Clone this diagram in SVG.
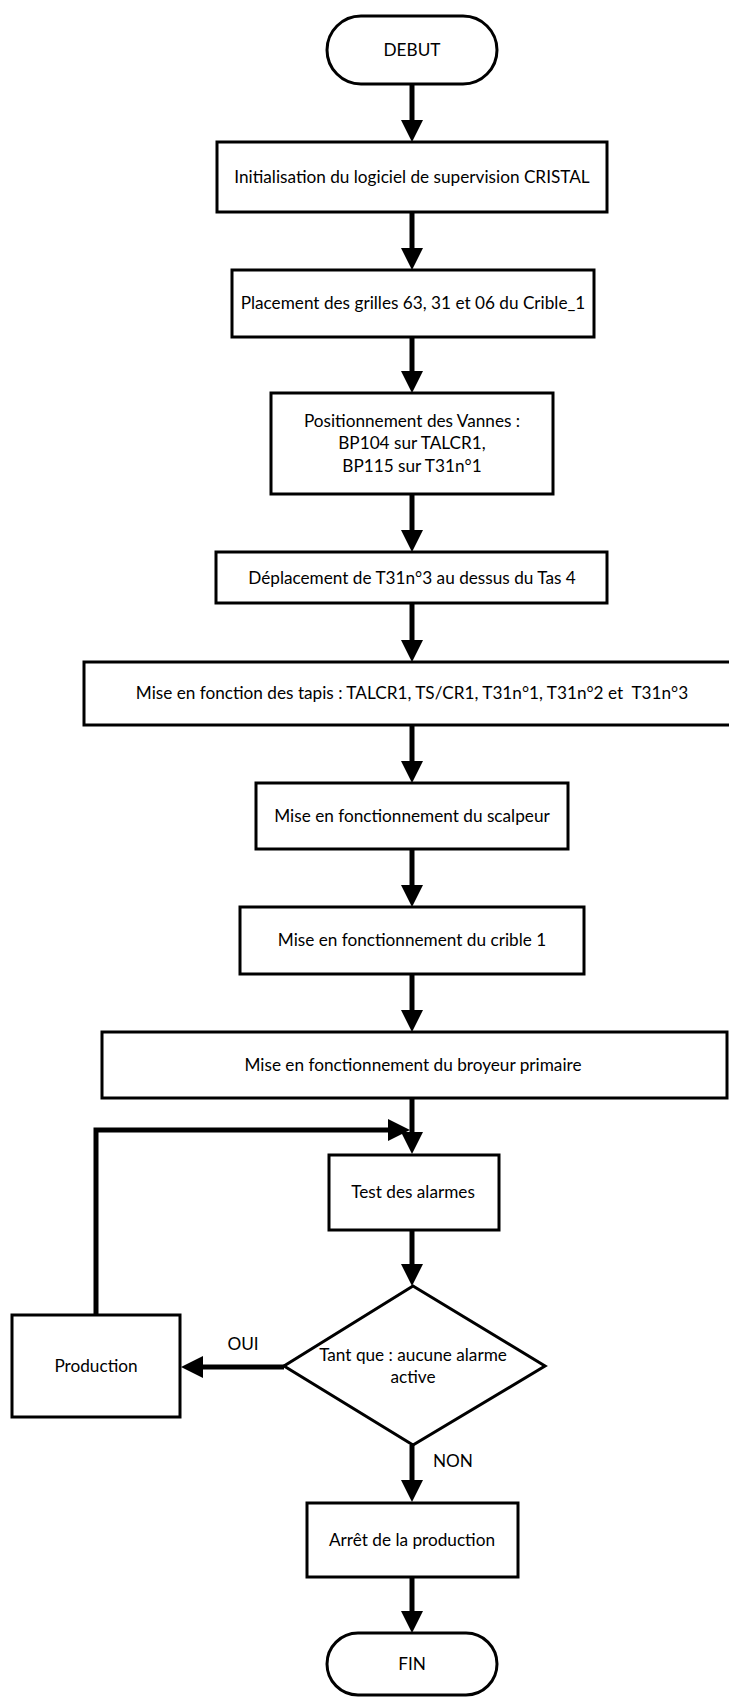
<svg xmlns="http://www.w3.org/2000/svg" width="729" height="1697" viewBox="0 0 729 1697">
  <style>
    .box { fill: #ffffff; stroke: #000000; stroke-width: 3; }
    .lbl { font-family: Lato, "Liberation Sans", sans-serif; font-size: 17.2px; fill: #000000; text-anchor: middle; white-space: pre; }
    .flow { fill: none; stroke: #000000; stroke-width: 5; marker-end: url(#head); }
  </style>
  <defs>
    <marker id="head" markerUnits="userSpaceOnUse" markerWidth="22" markerHeight="22" refX="10" refY="11" orient="auto">
      <path d="M0,0 L22,11 L0,22 Z" fill="#000000"/>
    </marker>
  </defs>

  <!-- connectors -->
  <g id="connectors">
    <path class="flow" d="M412,84 L412,130"/>
    <path class="flow" d="M412,212 L412,258"/>
    <path class="flow" d="M412,337 L412,381"/>
    <path class="flow" d="M412,494 L412,540"/>
    <path class="flow" d="M412,603 L412,650"/>
    <path class="flow" d="M412,725 L412,771"/>
    <path class="flow" d="M412,849 L412,895"/>
    <path class="flow" d="M412,974 L412,1020"/>
    <path class="flow" d="M412,1098 L412,1142"/>
    <path class="flow" d="M96,1315 L96,1130 L398,1130"/>
    <path class="flow" d="M412,1230 L412,1274"/>
    <path class="flow" d="M284,1367 L193,1367"/>
    <path class="flow" d="M412,1445 L412,1490"/>
    <path class="flow" d="M412,1577 L412,1621"/>
  </g>

  <g id="debut">
    <rect class="box" x="327" y="16" width="170" height="68" rx="34" ry="34"/>
    <text class="lbl" x="412" y="56">DEBUT</text>
  </g>

  <g id="init">
    <rect class="box" x="217" y="142" width="390" height="70"/>
    <text class="lbl" x="412" y="183">Initialisation du logiciel de supervision CRISTAL</text>
  </g>

  <g id="grilles">
    <rect class="box" x="232" y="270" width="362" height="67"/>
    <text class="lbl" x="413" y="309">Placement des grilles 63, 31 et 06 du Crible_1</text>
  </g>

  <g id="vannes">
    <rect class="box" x="271" y="393" width="282" height="101"/>
    <text class="lbl" x="412" y="427">Positionnement des Vannes :</text>
    <text class="lbl" x="412" y="449">BP104 sur TALCR1,</text>
    <text class="lbl" x="412" y="472">BP115 sur T31n°1</text>
  </g>

  <g id="deplacement">
    <rect class="box" x="216" y="552" width="391" height="51"/>
    <text class="lbl" x="412" y="584">Déplacement de T31n°3 au dessus du Tas 4</text>
  </g>

  <g id="tapis">
    <rect class="box" x="84" y="662" width="648" height="63"/>
    <text class="lbl" x="412" y="699">Mise en fonction des tapis : TALCR1, TS/CR1, T31n°1, T31n°2 et  T31n°3</text>
  </g>

  <g id="scalpeur">
    <rect class="box" x="256" y="783" width="312" height="66"/>
    <text class="lbl" x="412" y="822">Mise en fonctionnement du scalpeur</text>
  </g>

  <g id="crible">
    <rect class="box" x="240" y="907" width="344" height="67"/>
    <text class="lbl" x="412" y="946">Mise en fonctionnement du crible 1</text>
  </g>

  <g id="broyeur">
    <rect class="box" x="102" y="1032" width="625" height="66"/>
    <text class="lbl" x="413" y="1071">Mise en fonctionnement du broyeur primaire</text>
  </g>

  <g id="test">
    <rect class="box" x="329" y="1155" width="170" height="75"/>
    <text class="lbl" x="413" y="1198">Test des alarmes</text>
  </g>

  <g id="decision">
    <polygon class="box" points="413,1286 545,1366 413,1445 284,1366"/>
    <text class="lbl" x="413" y="1361">Tant que : aucune alarme</text>
    <text class="lbl" x="413" y="1383">active</text>
  </g>

  <g id="production">
    <rect class="box" x="12" y="1315" width="168" height="102"/>
    <text class="lbl" x="96" y="1372">Production</text>
  </g>

  <g id="branch-labels">
    <text class="lbl" x="243" y="1350">OUI</text>
    <text class="lbl" x="453" y="1467">NON</text>
  </g>

  <g id="arret">
    <rect class="box" x="307" y="1503" width="211" height="74"/>
    <text class="lbl" x="412" y="1546">Arrêt de la production</text>
  </g>

  <g id="fin">
    <rect class="box" x="327" y="1633" width="170" height="62" rx="31" ry="31"/>
    <text class="lbl" x="412" y="1670">FIN</text>
  </g>
</svg>
